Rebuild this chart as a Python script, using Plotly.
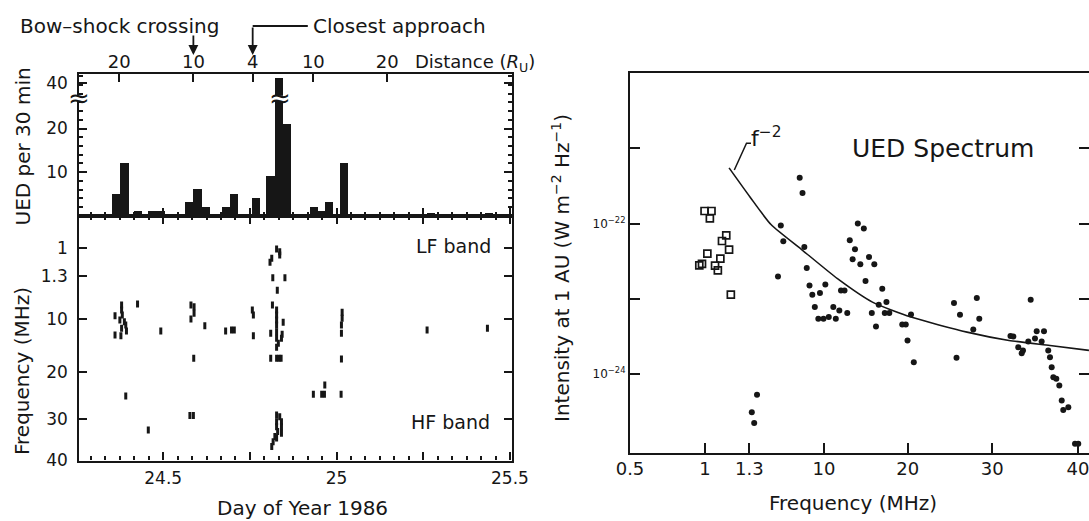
import numpy as np
import plotly.graph_objects as go

W, H = 1089, 521

# ---------------- data: UED counts per 30 min (top-left) ----------------
ued_day = [24.366, 24.389, 24.429, 24.470, 24.493, 24.576, 24.600, 24.624, 24.681, 24.705,
           24.768, 24.810, 24.834, 24.856, 24.935, 24.957, 24.978, 25.023, 25.274, 25.441]
ued_count = [5, 12, 1, 1, 1, 3, 6, 2, 2, 5,
             4, 9, 41, 21, 2, 1, 3, 12, 0.5, 0.5]
ued_tick_vals = [10, 20, 40]

# distance scale on top axis
dist_day = [24.373, 24.587, 24.758, 24.933, 25.146]
dist_label = ["20", "10", "4", "10", "20"]
bow_shock_day = 24.587
closest_day = 24.758

# ---------------- data: burst occurrences (bottom-left) ----------------
burst_day = [24.361, 24.380, 24.380, 24.382, 24.375, 24.388, 24.392, 24.380, 24.394, 24.361, 24.378,
             24.426, 24.493,
             24.580, 24.589, 24.589, 24.580, 24.620, 24.588,
             24.680, 24.697, 24.705,
             24.757, 24.760, 24.760,
             24.827, 24.836, 24.836, 24.813, 24.808, 24.816, 24.851, 24.829, 24.815, 24.827,
             24.827, 24.827, 24.846, 24.827, 24.810, 24.827, 24.843, 24.827, 24.841, 24.832,
             24.827, 24.810, 24.827, 24.834, 24.840,
             25.016, 25.016, 25.014, 25.014, 25.014,
             24.392, 24.457, 24.577, 24.587, 24.933, 24.957, 24.965, 24.966, 25.013,
             24.827, 24.836, 24.827, 24.841, 24.827, 24.841, 24.830, 24.841, 24.822, 24.827,
             24.817, 24.813,
             25.261, 25.435]
burst_freq = [9.39, 7.23, 8.24, 9.25, 10.25, 10.57, 11.19, 11.81, 12.32, 13.08, 13.2,
              7.03, 12.32,
              7.23, 7.57, 8.91, 10.06, 11.32, 17.47,
              12.32, 12.13, 12.13,
              8.24, 9.25, 13.2,
              1.014, 1.043, 1.078, 1.114, 1.156, 1.70, 1.70, 4.25, 7.23, 8.24,
              9.25, 10.25, 10.68, 11.19, 12.75, 12.45, 12.94, 13.7, 13.7, 14.64,
              15.4, 17.47, 17.47, 17.47, 17.47,
              8.71, 9.92, 11.19, 12.75, 17.6,
              25.1, 32.6, 29.2, 29.2, 24.75, 24.75, 24.75, 22.8, 24.75,
              29.1, 29.45, 30.6, 30.6, 31.8, 31.8, 33.0, 33.4, 34.2, 34.6,
              35.5, 36.7,
              12.13, 11.81]
FREQ_TICKS = [1, 1.3, 10, 20, 30, 40]
FREQ_LABELS = ["1", "1.3", "10", "20", "30", "40"]
FREQ_SLOTS = [0.32, 0.60, 1.03, 1.56, 2.036, 2.443]   # irregular (band-split) frequency scale

# ---------------- data: UED spectrum (right) ----------------
SPEC_TICKS = [0.5, 1, 1.3, 10, 20, 30, 40]
SPEC_LABELS = ["0.5", "1", "1.3", "10", "20", "30", "40"]
SPEC_SLOTS = [0, 0.75, 1.193, 1.94, 2.777, 3.623, 4.48]

sq_freq = [0.997, 1.044, 1.033, 1.144, 1.115, 1.163, 1.016, 1.104, 0.962, 0.98, 1.068, 1.087, 1.175]
sq_int = [1.47e-22, 1.47e-22, 1.17e-22, 6.98e-23, 5.86e-23, 4.50e-23, 3.98e-23, 3.41e-23,
          2.78e-23, 2.91e-23, 2.75e-23, 2.38e-23, 1.13e-23]

dot_freq = [7.17, 7.50, 4.97, 5.26, 7.71, 7.99, 4.64,
            14.04, 14.76, 13.08, 13.70, 15.38, 13.42, 14.34, 16.01, 14.96,
            8.31, 8.64, 9.53, 10.16, 8.93, 9.34, 9.94, 10.57, 11.11, 11.41, 11.83, 12.03, 12.45, 12.78,
            15.71, 16.21, 16.54, 16.96, 17.46, 17.26, 17.80, 19.35, 19.77, 20.39, 19.98, 20.72,
            25.47, 26.18, 25.77, 27.75, 28.17, 28.46,
            32.12, 32.45, 33.03, 33.43, 33.58, 34.20, 34.48, 34.98, 35.18, 35.76, 36.03, 36.53,
            36.73, 36.93, 37.12, 37.47, 37.82, 38.10, 38.28, 38.87, 39.65, 40.03,
            1.59, 1.87, 2.20]
dot_int = [4.06e-22, 2.56e-22, 9.40e-23, 5.81e-23, 4.87e-23, 2.56e-23, 1.98e-23,
           1.0e-22, 8.58e-23, 5.98e-23, 4.54e-23, 3.59e-23, 3.34e-23, 2.87e-23, 2.87e-23, 1.72e-23,
           1.50e-23, 1.13e-23, 1.19e-23, 1.54e-23, 7.73e-24, 5.41e-24, 5.41e-24, 5.69e-24, 7.73e-24,
           5.41e-24, 6.98e-24, 1.29e-23, 1.29e-23, 6.43e-24,
           6.43e-24, 4.28e-24, 8.32e-24, 1.36e-23, 9.01e-24, 6.43e-24, 6.43e-24, 4.54e-24, 4.54e-24,
           6.18e-24, 2.78e-24, 1.43e-24,
           8.73e-24, 6.12e-24, 1.63e-24, 3.90e-24, 1.02e-23, 5.41e-24,
           3.19e-24, 3.14e-24, 2.26e-24, 1.88e-24, 2.05e-24, 2.70e-24, 9.7e-24, 2.96e-24, 3.70e-24,
           2.70e-24, 3.70e-24, 2.05e-24,
           1.66e-24, 1.22e-24, 9.0e-25, 8.58e-25, 6.98e-25, 4.41e-25, 3.31e-25, 3.59e-25, 1.17e-25, 1.17e-25,
           3.08e-25, 2.22e-25, 5.25e-25]

fm2_freq = [1.163, 1.38, 3.83, 7.50, 11.61, 15.79, 20.39, 27.01, 31.95, 36.73, 41.28]
fm2_int = [5.51e-22, 2.26e-22, 9.7e-23, 4.41e-23, 1.85e-23, 9.01e-24, 5.69e-24, 3.59e-24,
           2.78e-24, 2.38e-24, 2.05e-24]


# ---------------- scales ----------------
def to_slot(v, ticks, slots):
    v = np.asarray(v, float)
    s = np.interp(v, ticks, slots)
    hi = v > ticks[-1]
    s[hi] = slots[-1] + (v[hi] - ticks[-1]) * (slots[-1] - slots[-2]) / (ticks[-1] - ticks[-2])
    return s


BREAK_SHIFT = 9.6  # axis break: values above 30 are drawn shifted down


def ued_coord(v):
    v = np.asarray(v, float)
    return np.where(v > 30, v - BREAK_SHIFT, v)


def px(x):
    return x / W


def py(y):
    return 1 - y / H


INK = "#161616"
FONT = "DejaVu Sans"

fig = go.Figure()
fig.add_bar(x=ued_day, y=ued_coord(ued_count), width=0.024,
            marker=dict(color=INK, line=dict(width=0)), xaxis="x", yaxis="y")
# carrier for the distance (top) axis
fig.add_scatter(x=dist_day, y=[0] * len(dist_day), mode="markers", opacity=0,
                hoverinfo="skip", xaxis="x3", yaxis="y")
fig.add_scatter(x=burst_day, y=to_slot(burst_freq, FREQ_TICKS, FREQ_SLOTS), mode="markers",
                marker=dict(symbol="line-ns", size=5, color=INK, line=dict(width=3, color=INK)),
                xaxis="x2", yaxis="y2")
fig.add_scatter(x=to_slot(fm2_freq, SPEC_TICKS, SPEC_SLOTS), y=fm2_int, mode="lines",
                line=dict(color=INK, width=1.6, shape="spline", smoothing=0.6),
                xaxis="x4", yaxis="y4")
fig.add_scatter(x=to_slot(sq_freq, SPEC_TICKS, SPEC_SLOTS), y=sq_int, mode="markers",
                marker=dict(symbol="square-open", size=7, color=INK, line=dict(width=1.7, color=INK)),
                xaxis="x4", yaxis="y4")
fig.add_scatter(x=to_slot(dot_freq, SPEC_TICKS, SPEC_SLOTS), y=dot_int, mode="markers",
                marker=dict(symbol="circle", size=6, color=INK, line=dict(width=0)),
                xaxis="x4", yaxis="y4")

common = dict(showline=True, linecolor=INK, linewidth=2.2, ticks="inside", tickcolor=INK,
              tickwidth=2, showgrid=False, zeroline=False, automargin=False,
              ticklabeloverflow="allow")
LX = [px(79.3), px(511.7)]
DAY_RANGE = [24.258, 25.505]
minor_day = dict(ticks="inside", ticklen=4, tickmode="linear", tick0=24.5, dtick=1 / 24,
                 tickcolor=INK, tickwidth=1.5, showgrid=False)
tick_font_l = dict(family=FONT, size=17, color=INK)

fig.update_layout(
    width=W, height=H, autosize=False, showlegend=False,
    margin=dict(l=0, r=0, t=0, b=0, pad=0, autoexpand=False),
    paper_bgcolor="white", plot_bgcolor="rgba(0,0,0,0)",
    bargap=0,
    xaxis=dict(domain=LX, range=DAY_RANGE, anchor="y", tickmode="array",
               tickvals=[24.25, 24.5, 24.75, 25.0, 25.25, 25.5], showticklabels=False,
               ticklen=8, minor=minor_day, **common),
    xaxis3=dict(overlaying="x", side="top", anchor="y", range=DAY_RANGE, tickmode="array",
                tickvals=dist_day, ticktext=dist_label, ticklen=8,
                tickfont=dict(family=FONT, size=18, color=INK), ticklabelstandoff=-3, **common),
    yaxis=dict(domain=[py(215.7), py(74.3)], range=[0, 32.43], anchor="x", tickmode="array",
               tickvals=list(ued_coord(ued_tick_vals)), ticktext=[str(v) for v in ued_tick_vals],
               ticklen=8, mirror="ticks", tickfont=tick_font_l, ticklabelstandoff=6,
               minor=dict(ticks="inside", ticklen=4, tickmode="linear", tick0=0, dtick=2,
                          tickcolor=INK, tickwidth=1.5, showgrid=False),
               **common),
    xaxis2=dict(domain=LX, range=DAY_RANGE, anchor="y2", tickmode="array",
                tickvals=[24.5, 24.75, 25.0, 25.25, 25.5], ticktext=["24.5", "", "25", "", "25.5"],
                ticklen=8, mirror="ticks", tickfont=tick_font_l, ticklabelstandoff=1,
                minor=minor_day, **common),
    yaxis2=dict(domain=[py(460.5), py(215.7)], range=[2.448, 0], anchor="x2", tickmode="array",
                tickvals=FREQ_SLOTS, ticktext=FREQ_LABELS, ticklen=8, mirror="ticks",
                tickfont=tick_font_l, ticklabelstandoff=6, **common),
    xaxis4=dict(domain=[px(630), 1.0], range=[0, 4.59], anchor="y4", tickmode="array",
                tickvals=SPEC_SLOTS, ticktext=SPEC_LABELS, ticklen=10, mirror=True,
                tickfont=dict(family=FONT, size=18, color=INK), ticklabelstandoff=-1, **common),
    yaxis4=dict(type="log", domain=[py(452.7), py(73.3)], range=[-25.05, -20], anchor="x4",
                tickmode="array", tickvals=[1e-21, 1e-22, 1e-23, 1e-24],
                ticktext=["", "10<sup>−22</sup>", "", "10<sup>−24</sup>"], ticklen=10, mirror="ticks",
                tickfont=dict(family=FONT, size=12, color=INK), ticklabelstandoff=0, **common),
)

ann = []


def text(t, x, y, size, angle=0, xanchor="center", family=FONT):
    ann.append(dict(text=t, x=px(x), y=py(y), xref="paper", yref="paper", showarrow=False,
                    xanchor=xanchor, yanchor="middle", textangle=angle,
                    font=dict(family=family, size=size, color=INK)))


text("Bow–shock crossing", 119.5, 25.8, 20)
text("Closest approach", 399, 25.8, 20)
text("Distance (<i>R</i><sub>U</sub>)", 413, 63, 18, xanchor="left")
text("LF band", 453, 246, 19)
text("HF band", 450.6, 421.7, 19)
text("UED per 30 min", 22.5, 147, 20, angle=-90)
text("Frequency (MHz)", 21.5, 371.5, 20, angle=-90)
text("Day of Year 1986", 302, 508, 20)
text("UED Spectrum", 942.5, 148.5, 25)
text("f<sup>−2</sup>", 766, 137, 22)
text("Frequency (MHz)", 853, 503, 20)
text("Intensity at 1 AU (W m<sup>−2</sup> Hz<sup>−1</sup>)", 561, 268, 20, angle=-90)

# event arrows
ann.append(dict(x=bow_shock_day, y=py(55), xref="x", yref="paper", text="", showarrow=True,
                ax=0, ay=-21, arrowhead=2, arrowsize=1.1, arrowwidth=1.8, arrowcolor=INK))
ann.append(dict(x=closest_day, y=py(55), xref="x", yref="paper", text="", showarrow=True,
                ax=0, ay=-29, arrowhead=2, arrowsize=1.1, arrowwidth=1.8, arrowcolor=INK))

# axis break marks
ann.append(dict(text="≈", x=px(79.3), y=26.9, xref="paper", yref="y", showarrow=False,
                xanchor="center", yanchor="middle", font=dict(family=FONT, size=26, color=INK)))
ann.append(dict(text="≈", x=ued_day[12] + 0.004, y=26.9, xref="x", yref="y", showarrow=False,
                xanchor="center", yanchor="middle", font=dict(family=FONT, size=26, color=INK)))

shapes = [
    dict(type="line", xref="x", yref="paper", x0=closest_day, x1=24.917, y0=py(26), y1=py(26),
         line=dict(color=INK, width=1.8)),
    dict(type="rect", xref="paper", yref="y", x0=px(75), x1=px(84), y0=26.3, y1=27.5,
         fillcolor="white", line=dict(width=0), layer="above"),
    dict(type="rect", xref="x", yref="y", x0=ued_day[12] - 0.013, x1=ued_day[12] + 0.013,
         y0=26.3, y1=27.5, fillcolor="white", line=dict(width=0), layer="above"),
    dict(type="path", xref="paper", yref="paper",
         path=f"M {px(734.3)},{py(170)} L {px(746.5)},{py(143.3)} L {px(751)},{py(143.3)}",
         line=dict(color=INK, width=1.5)),
]
fig.update_layout(annotations=ann, shapes=shapes)

fig.write_html("out.html", config={"displayModeBar": False},
               post_script="document.body.style.margin='0px';document.body.style.overflow='hidden';")
